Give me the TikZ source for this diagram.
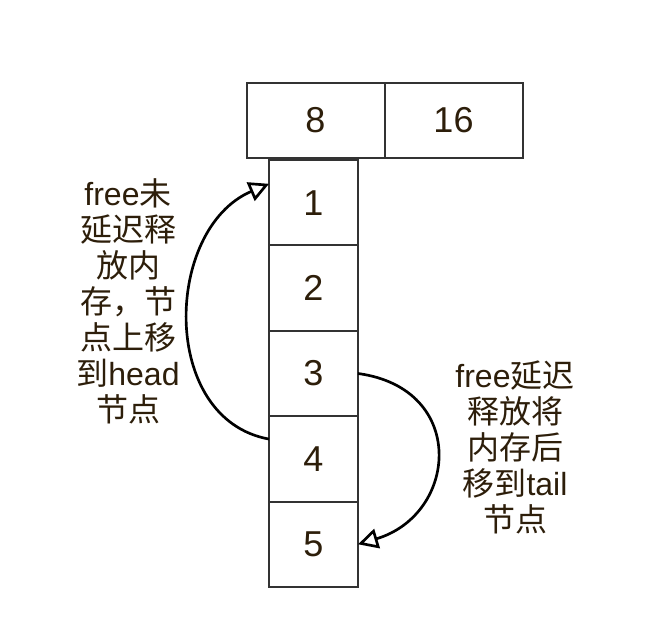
\documentclass[tikz,border=0pt]{standalone}
\usepackage{fontspec}
\setmainfont{Liberation Sans}
\newfontfamily\cjk{Noto Sans CJK SC}
\usetikzlibrary{arrows.meta}
\definecolor{txtbrown}{RGB}{45,30,10}
\definecolor{boxgray}{RGB}{51,51,51}

\begin{document}
\begin{tikzpicture}[x=0.75pt,y=0.75pt,cell/.style={draw=boxgray,line width=1.5pt,inner sep=0pt,outer sep=0pt,minimum width=66.75pt,minimum height=64pt,text=txtbrown,font=\fontsize{27}{30}\selectfont},hdr/.style={cell,minimum width=103.5pt,minimum height=56.25pt},note/.style={align=center,text=txtbrown,font=\fontsize{24}{27}\selectfont},move/.style={line width=2pt,-{Triangle[open,length=15pt,width=15pt]}}]
  \useasboundingbox (0,0) rectangle (648,632);

  \node[hdr] (h8) at (315.5,511.5) {8};
  \node[hdr] (h16) at (453.5,511.5) {16};

  \node[cell] (c1) at (313.5,429.3) {1};
  \node[cell] (c2) at (313.5,343.9) {2};
  \node[cell] (c3) at (313.5,258.5) {3};
  \node[cell] (c4) at (313.5,173.1) {4};
  \node[cell] (c5) at (313.5,87.7) {5};

  \node[note] (lnote) at (128,331) {free{\cjk 未}\\{\cjk 延迟释}\\{\cjk 放内}\\{\cjk 存，节}\\{\cjk 点上移}\\{\cjk 到}head\\{\cjk 节点}};
  \node[note] (rnote) at (515,185) {free{\cjk 延迟}\\{\cjk 释放将}\\{\cjk 内存后}\\{\cjk 移到}tail\\{\cjk 节点}};

  \draw[move] (c4.156) .. controls +(-110,20) and +(-105,-45) .. (c1.157);
  \draw[move] (c3.east) .. controls +(110,-15) and +(100,30) .. (c5.east);
\end{tikzpicture}
\end{document}
